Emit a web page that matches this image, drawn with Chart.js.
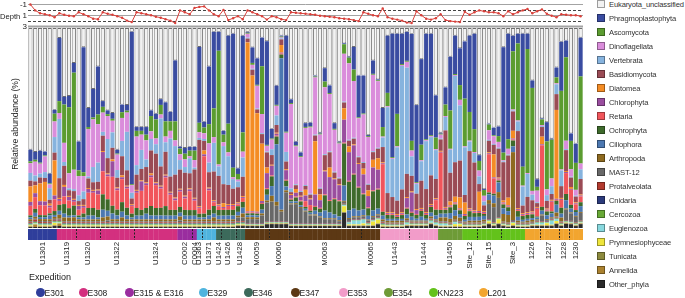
<!DOCTYPE html>
<html>
<head>
<meta charset="utf-8">
<script src="https://cdn.jsdelivr.net/npm/chart.js@4.4.1/dist/chart.umd.min.js"></script>
<style>
  body { margin: 0; background: #fff; width: 685px; height: 298px; overflow: hidden; position: relative;
         font-family: "Liberation Sans", Arial, sans-serif; color: #222; }
  canvas { position: absolute; left: 0; }
  #depth { top: 0; }
  #main { top: 28px; }
  #strip { top: 229px; }
  .lbl { position: absolute; white-space: nowrap; line-height: 10px; }
  #ylab { position: absolute; left: 15px; top: 124px; transform: translate(-50%, -50%) rotate(-90deg);
          font-size: 8.6px; white-space: nowrap; }
  .li { position: absolute; left: 597px; height: 10px; font-size: 7.6px; letter-spacing: -0.15px; line-height: 10px;
        white-space: nowrap; color: #333; }
  .li span { display: inline-block; width: 8px; height: 8px; vertical-align: -1px; margin-right: 4px;
             box-sizing: border-box; border: 0.5px solid rgba(0,0,0,.35); }
  .dot { position: absolute; width: 9px; height: 9px; border-radius: 50%; top: 288px; }
  .exp { position: absolute; top: 288px; font-size: 8.5px; line-height: 10px; white-space: nowrap; }
</style>
</head>
<body>
<canvas id="depth" width="590" height="30"></canvas>
<canvas id="main" width="590" height="200"></canvas>
<canvas id="strip" width="590" height="62"></canvas>

<div class="lbl" style="left:0px;top:12px;font-size:7.6px">Depth</div>
<div class="lbl" style="left:19px;width:8px;text-align:right;top:0px;font-size:8px">-1</div>
<div class="lbl" style="left:19px;width:8px;text-align:right;top:10.5px;font-size:8px">1</div>
<div class="lbl" style="left:19px;width:8px;text-align:right;top:22px;font-size:8px">3</div>
<div id="ylab">Relative abundance (%)</div>
<div class="lbl" style="left:29px;top:272px;font-size:9px">Expedition</div>
<div id="legends"></div>

<script>
// sites along the x axis, number of samples in each, and the expedition
const siteNames = ['U1301','U1319','U1320','U1322','U1324','C0002','C0004','U1363','U1371','U1424','U1426','U1428',
  'M0059','M0060','M0063','M0065','U1443','U1444','U1450','Site_12','Site_15','Site_3','1226','1227','1228','1230'];
const siteBars = [6,4,5,7,9,3,1,1,3,1,3,2,5,4,15,4,6,6,5,3,5,5,3,4,2,3];
const siteExpedition = ['E301','E308','E308','E308','E308','E315 & E316','E315 & E316','E329','E329','E346','E346','E346',
  'E347','E347','E347','E347','E353','E353','E354','KN223','KN223','KN223','L201','L201','L201','L201'];

const expeditions = ['E301','E308','E315 & E316','E329','E346','E347','E353','E354','KN223','L201'];
const expeditionColors = ['#2f3e9b','#d3307f','#9a2d9f','#4fb4de','#3c6a5b','#5c3814','#f29cc9','#6e9b37','#63c21b','#f2a52f'];

// sample depth (log scale, -1 .. 3)
const depth = [-0.91,0.16,0.69,0.87,1.04,1.4,0.69,0.96,1.13,1.22,
  0.51,0.87,1.22,1.67,1.76,0.51,0.78,0.96,1.22,1.49,
  2.02,2.29,0.51,0.69,0.87,1.04,1.31,1.49,1.76,2.02,
  2.47,0.16,0.51,0.87,-0.29,-0.47,-0.56,0.16,0.87,1.22,
  0.07,1.93,1.58,1.22,1.76,0.16,0.51,0.87,1.22,1.84,
  1.22,1.4,1.76,1.93,0.51,0.6,0.69,0.78,0.87,0.96,
  1.13,1.22,1.31,1.4,1.58,1.67,1.76,1.93,2.11,0.51,
  0.78,1.04,1.22,-0.2,1.4,1.67,1.84,2.02,2.38,2.47,
  0.33,1.04,1.67,1.84,1.58,0.87,1.93,2.11,2.2,2.29,
  0.42,0.96,0.51,0.16,0.33,0.51,0.51,0.69,1.22,0.33,
  0.87,0.51,0.16,-0.11,0.69,0.33,-0.02,0.78,1.13,1.4,
  0.87,0.96,1.04,1.04,1.22];
const depthTicks = [-1, 0, 1, 2, 3];

// relative abundance per sample (%), one array per taxon
const eukUnclassified = [63,63,62,63,75,42,5,36,36,18,
  59,10,42,32,20,38,43,44,63,40,
  40,2,52,52,52,43,45,37,39,44,
  17,62,63,63,63,10,49,20,2,2,
  54,4,3,74,4,2,10,16,5,7,
  52,30,4,4,38,60,66,50,50,25,
  55,21,30,50,60,8,15,10,25,25,
  57,17,27,42,4,3,3,3,2,3,
  40,16,3,3,35,55,31,15,4,11,
  7,4,3,66,84,50,52,51,10,3,
  4,3,3,3,28,79,47,49,57,20,
  7,6,56,60,5];
const phragmoplastophyta = [6,4,6,2,5,2,32,4,6,5,
  15,65,10,15,25,3,2,3,2,4,
  3,80,2,2,4,3,3,3,10,5,
  32,1,3,2,2,40,3,30,40,10,
  2,46,70,3,50,0.5,8,14,15,55,
  5,10,0.5,50,2,2,2,2,2,0.5,
  0.5,7,4,3,0.5,0.5,0.5,12,22,20,
  0.5,7,0.5,10,30,65,42,16,15,55,
  40,44,55,53,22,0.5,9,28,20,20,
  30,40,50,3,0.5,0.5,4,5,55,55,
  8,5,70,8,4,4,0.5,10,0.5,5,
  25,8,4,10,20];
const ascomycota = [1,1,0.5,0.5,0.5,4,6,20,35,50,
  3,2,1,1,5,3,1,1,0.5,3,
  1,0.5,3,2,3,8,10,5,8,5,
  10,3,3,3,5,5,3,10,15,60,
  4,15,5,3,10,0.5,1,0.5,25,0.5,
  0.5,0.5,0.5,0.5,0.5,0.5,0.5,0.5,0.5,0.5,
  0.5,3,0.5,0.5,0.5,5,3,6,0.5,0.5,
  0.5,0.5,0.5,5,7,0.5,17,0.5,0.5,5,
  0.5,8,0.5,0.5,6,0.5,6,20,0.5,8,
  25,15,12,5,3,3,0.5,3,4,5,
  30,40,10,65,55,2,3,25,20,3,
  40,40,15,14,45];
const dinoflagellata = [5,7,5,8,2,8,3,10,8,10,
  10,8,25,25,20,10,12,6,8,12,
  10,4,15,8,10,4,3,2,3,4,
  3,3,4,1,4,3,3,10,3,1,
  2,2,1,1,3,2,2,12,10,3,
  5,5,0.5,10,45,20,18,30,35,30,
  28,35,30,22,18,25,40,30,20,25,
  25,40,35,0.5,0.5,0.5,0.5,0.5,3,3,
  0.5,0.5,0.5,0.5,0.5,2,0.5,0.5,0.5,3,
  0.5,0.5,0.5,3,3,5,4,3,0.5,3,
  0.5,0.5,0.5,0.5,2,6,0.5,3,4,0.5,
  0.5,4,4,3,3];
const vertebrata = [4,3,2,3,6,8,30,2,1,1,
  3,4,1,8,10,2,10,8,4,8,
  20,3,5,10,4,6,5,25,5,20,
  15,5,3,8,1,1,1,5,15,5,
  20,15,5,3,10,0.5,0.5,0.5,0.5,0.5,
  3,5,0.5,5,2,0.5,0.5,0.5,0.5,0.5,
  0.5,0.5,0.5,0.5,0.5,0.5,0.5,0.5,0.5,0.5,
  0.5,0.5,0.5,5,45,20,28,65,55,10,
  5,10,25,20,15,0.5,7,12,45,30,
  25,5,5,4,2,0.5,0.5,0.5,0.5,0.5,
  0.5,5,10,12,3,0.5,0.5,3,4,5,
  8,0.5,0.5,0.5,5];
const basidiomycota = [3,2,3,2,2,4,10,10,3,4,
  2,3,5,4,4,8,8,6,5,10,
  8,3,8,6,8,12,15,10,12,8,
  12,10,12,8,15,35,5,8,15,15,
  10,10,8,8,10,2,3,2,5,8,
  5,4,3,4,1,2,2,2,2,3,
  3,8,8,3,3,3,3,3,3,3,
  3,4,5,8,10,8,7,12,12,8,
  8,14,12,15,10,6,40,15,18,20,
  4,30,25,4,3,6,5,15,20,22,
  10,40,4,8,6,2,5,4,3,8,
  6,10,5,3,8];
const diatomea = [8,4,9,10,1,18,0.5,1,0.5,0.5,
  0.5,0.5,0.5,0.5,0.5,0.5,0.5,1,0.5,1,
  0.5,0.5,0.5,0.5,0.5,1,0.5,0.5,0.5,0.5,
  0.5,0.5,0.5,0.5,0.5,0.5,2,0.5,0.5,0.5,
  2,0.5,0.5,0.5,0.5,88,70,52,30,3,
  0.5,0.5,4,0.5,0.5,2,0.5,3,0.5,28,
  3,0.5,5,0.5,0.5,6,3,0.5,0.5,3,
  3,4,6,0.5,0.5,0.5,0.5,0.5,0.5,0.5,
  0.5,0.5,0.5,0.5,0.5,0.5,0.5,2,3,6,
  6,0.5,0.5,10,0.5,0.5,12,0.5,1,4,
  4,0.5,0.5,0.5,0.5,0.5,4,0.5,0.5,45,
  0.5,0.5,1,0.5,0.5];
const chlorophyta = [2,2,2,2,1,2,1,5,2,1,
  2,1,2,1,2,10,1,8,1,1,
  1,0.5,1,5,1,1,1,1,1,1,
  1,1,1,1,1,0.5,1,1,0.5,0.5,
  0.5,0.5,0.5,0.5,0.5,0.5,0.5,0.5,1,8,
  5,1,0.5,5,2,2,2,3,3,6,
  4,12,12,10,8,12,15,15,12,10,
  6,12,10,0.5,0.5,0.5,0.5,0.5,5,10,
  2,0.5,0.5,0.5,0.5,0.5,0.5,0.5,0.5,0.5,
  0.5,0.5,0.5,0.5,0.5,0.5,0.5,0.5,0.5,0.5,
  0.5,0.5,0.5,0.5,0.5,0.5,0.5,0.5,0.5,0.5,
  0.5,0.5,0.5,0.5,0.5];
const retaria = [5,6,5,5,3,6,2,4,4,2,
  3,3,8,8,8,12,12,15,10,12,
  10,4,8,10,12,15,12,10,15,8,
  5,8,6,10,5,3,30,10,2,2,
  1,2,2,1,2,0.5,0.5,0.5,0.5,0.5,
  0.5,0.5,0.5,0.5,0.5,0.5,0.5,3,3,0.5,
  0.5,0.5,0.5,0.5,0.5,0.5,0.5,0.5,0.5,0.5,
  0.5,0.5,0.5,25,0.5,0.5,0.5,0.5,0.5,0.5,
  0.5,0.5,0.5,0.5,5,30,0.5,0.5,0.5,0.5,
  0.5,0.5,0.5,0.5,0.5,20,8,0.5,0.5,0.5,
  0.5,0.5,0.5,0.5,0.5,4,32,0.5,5,0.5,
  4,10,8,3,3];
const ochrophyta = [1,2,1,1,1,2,3,5,4,5,
  1,2,4,4,4,8,6,4,3,5,
  4,2,4,3,3,5,4,4,5,3,
  3,3,3,3,3,2,2,3,4,3,
  3,3,3,3,3,1,1,1,3,3,
  5,4,2,3,1,2,2,1,1,2,
  2,8,6,8,8,22,15,18,12,8,
  4,10,10,2,2,2,1,2,3,2,
  2,3,2,3,3,2,2,3,3,2,
  2,3,2,2,1,1,1,1,2,2,
  3,3,2,2,2,0.5,2,2,1,2,
  3,3,2,1,2];
const ciliophora = [1,2,1,1,2,1,2,2,1,1,
  1,1,2,2,1,4,3,3,2,3,
  2,1,2,2,3,2,2,2,2,2,
  2,2,2,2,2,1,1,2,2,2,
  2,2,2,2,3,1,1,1,2,3,
  5,30,80,2,1,1,1,1,1,2,
  2,4,3,2,2,8,4,4,3,3,
  2,3,3,2,1,1,1,1,2,2,
  1,2,1,2,2,2,2,3,3,2,
  1,2,2,2,2,3,4,5,3,2,
  3,2,1,1,1,1,2,2,2,4,
  2,4,2,2,3];
const arthropoda = [1,1,1,1,1,1,2,2,2,2,
  1,1,1,1,1,2,2,1,1,2,
  1,1,1,1,1,1,1,1,1,1,
  1,2,1,1,1,1,1,1,2,1,
  1,1,1,1,2,1,1,1,1,1,
  3,2,1,1,0.5,0.5,0.5,0.5,0.5,0.5,
  0.5,0.5,0.5,0.5,0.5,0.5,0.5,0.5,0.5,0.5,
  0.5,0.5,0.5,1,1,1,1,1,1,0.5,
  0.5,0.5,0.5,1,0.5,2,2,2,2,2,
  0.5,1,1,1,1,2,2,3,4,4,
  35,1,0.5,1,1,0.5,0.5,0.5,0.5,2,
  2,0.5,0.5,0.5,0.5];
const mast12 = [0.5,0.5,0.5,0.5,0.5,0.5,0.5,0.5,0.5,0.5,
  0.5,0.5,0.5,0.5,0.5,0.5,1,0.5,0.5,0.5,
  0.5,0.5,0.5,0.5,0.5,0.5,0.5,0.5,0.5,0.5,
  0.5,1,0.5,0.5,0.5,0.5,0.5,0.5,0.5,0.5,
  0.5,0.5,0.5,2,2,2,2,2,4,10,
  10,8,5,15,10,10,8,6,4,4,
  3,2,2,2,1,1,1,1,1,1,
  1,1,1,0.5,0.5,0.5,0.5,0.5,0.5,0.5,
  0.5,0.5,0.5,0.5,0.5,0.5,0.5,0.5,0.5,0.5,
  0.5,0.5,0.5,0.5,0.5,8,8,10,0.5,0.5,
  0.5,0.5,0.5,0.5,0.5,0.5,3,0.5,0.5,0.5,
  0.5,5,4,3,4];
const protalveolata = [0.5,1,0.5,0.5,0.5,0.5,0.5,0.5,0.5,0.5,
  0.5,0.5,0.5,0.5,0.5,0.5,0.5,0.5,0.5,0.5,
  0.5,0.5,0.5,0.5,0.5,0.5,0.5,0.5,0.5,0.5,
  0.5,0.5,0.5,0.5,0.5,0.5,0.5,0.5,0.5,0.5,
  0.5,0.5,0.5,0.5,0.5,0.3,0.3,0.3,0.3,0.3,
  0.3,0.3,0.3,0.3,0.3,0.3,0.3,0.3,0.3,0.3,
  0.3,0.3,0.3,0.3,0.3,0.3,0.3,0.3,0.3,0.3,
  0.3,0.3,0.3,0.5,0.3,0.3,0.3,0.3,0.3,0.3,
  0.3,0.3,0.3,0.3,0.3,0.3,0.3,0.3,0.3,0.3,
  0.3,0.3,0.3,0.3,0.3,0.3,0.3,0.3,0.3,0.3,
  0.3,0.3,0.3,0.3,0.3,0.3,0.3,0.3,0.3,0.3,
  0.3,0.3,0.3,0.3,0.3];
const cnidaria = [0.3,0.3,0.3,0.3,0.3,0.3,0.3,0.3,0.3,0.3,
  0.3,0.3,0.3,0.3,0.3,0.3,0.3,0.3,0.3,0.3,
  0.3,0.3,0.3,0.3,0.3,0.3,0.3,0.3,0.3,0.3,
  0.3,0.3,0.3,0.3,0.3,0.3,0.3,0.3,0.3,0.3,
  0.3,0.3,0.3,0.3,0.3,0.2,0.2,0.2,0.2,0.2,
  0.2,0.2,0.2,0.2,0.2,0.2,0.2,0.2,0.2,0.2,
  0.2,0.2,0.2,0.2,0.2,0.2,0.2,0.2,0.2,0.2,
  0.2,0.2,0.2,0.3,0.2,0.2,0.2,0.2,0.2,0.2,
  0.2,0.2,0.2,0.2,0.2,0.2,0.2,0.2,0.2,0.2,
  0.2,0.2,0.2,0.2,0.2,0.2,0.2,0.2,0.2,0.2,
  0.2,0.2,0.2,0.2,0.2,0.2,0.2,0.2,0.2,0.2,
  0.2,0.2,0.2,0.2,0.2];
const cercozoa = [0.5,0.5,0.5,0.5,0.5,0.5,0.5,0.5,0.5,0.5,
  0.5,0.5,0.5,0.5,0.5,0.5,0.5,0.5,0.5,0.5,
  0.5,0.5,0.5,0.5,0.5,0.5,0.5,0.5,0.5,0.5,
  0.5,0.5,0.5,0.5,0.5,0.5,0.5,0.5,0.5,0.5,
  0.5,0.5,0.5,0.5,0.5,0.3,0.3,0.3,0.3,0.3,
  0.3,0.3,0.3,0.3,0.3,0.3,0.3,0.3,0.3,0.3,
  0.3,0.3,0.3,0.3,0.3,0.3,0.3,0.3,0.3,0.3,
  0.3,0.3,0.3,0.5,0.3,0.3,0.3,0.3,0.3,0.3,
  0.3,0.3,0.3,0.3,0.3,0.3,0.3,0.3,0.3,0.3,
  0.3,0.3,0.3,0.3,0.3,0.3,0.3,0.3,0.3,0.3,
  0.3,0.3,0.3,0.3,0.3,0.3,0.3,0.3,0.3,0.3,
  0.3,0.3,0.3,0.3,0.3];
const euglenozoa = [0.3,0.3,0.3,0.3,0.3,0.3,0.3,0.3,0.3,0.3,
  0.3,0.3,0.3,0.3,0.3,0.3,0.3,0.3,0.3,0.3,
  0.3,0.3,0.3,0.3,0.3,0.3,0.3,0.3,0.3,0.3,
  0.3,0.3,0.3,0.3,0.3,0.3,0.3,0.3,0.3,0.3,
  0.3,0.3,0.3,0.3,0.3,0.2,0.2,0.2,0.2,0.2,
  0.2,0.2,0.2,0.2,0.2,0.2,0.2,0.2,0.2,0.2,
  0.2,0.2,0.2,0.2,0.2,0.5,1,2,2,2,
  0.5,0.5,0.5,0.3,0.3,0.3,0.3,0.3,1,0.3,
  0.3,0.3,0.3,1,1,1,1,0.3,1,0.3,
  0.3,0.3,0.3,0.3,0.3,0.3,0.3,0.3,0.3,0.3,
  0.3,0.3,0.3,0.3,0.3,1,1,0.3,2,1,
  0.3,0.3,0.3,0.3,0.3];
const prymnesiophyceae = [0.3,0.3,0.3,0.3,0.3,1,0.3,0.3,0.3,0.3,
  0.3,0.3,0.3,0.3,0.3,0.3,0.3,0.3,0.3,0.3,
  0.3,0.3,0.3,0.3,0.3,0.3,0.3,0.3,0.3,0.3,
  0.3,0.3,0.3,0.3,0.3,0.3,0.3,0.3,0.3,0.3,
  0.3,0.3,0.3,0.3,0.3,0.2,0.2,0.2,0.2,0.2,
  0.2,0.2,0.2,0.2,0.2,0.2,0.2,0.2,0.2,0.2,
  0.2,0.2,0.2,0.2,0.2,3,0.5,0.5,0.5,1,
  0.3,2,2,0.3,0.2,0.2,0.2,0.2,0.2,0.2,
  0.2,0.2,0.2,0.2,0.2,0.2,0.2,0.2,1,1,
  0.2,0.2,0.2,0.2,0.2,1,0.3,2,0.2,0.2,
  1,0.2,0.2,0.2,0.2,0.2,0.2,1,0.2,1,
  0.2,0.2,0.2,0.2,0.2];
const tunicata = [0.3,0.3,0.3,0.3,0.3,0.3,0.3,0.3,0.3,0.3,
  0.3,0.3,0.3,0.3,0.3,0.3,0.3,0.3,0.3,0.3,
  0.3,0.3,0.3,0.3,0.3,0.3,0.3,0.3,0.3,0.3,
  0.3,0.3,0.3,0.3,0.3,0.3,0.3,0.3,0.3,0.3,
  0.3,0.3,0.3,0.3,0.3,0.2,0.2,0.2,0.2,0.2,
  0.2,0.2,0.2,0.2,0.2,0.2,0.2,0.2,0.2,0.2,
  0.2,0.2,0.2,0.2,0.2,0.2,0.2,0.2,0.2,0.2,
  0.2,0.2,0.2,0.3,0.2,0.2,0.2,0.2,0.2,0.2,
  0.2,0.2,0.2,0.2,0.2,0.2,0.2,0.2,0.2,0.2,
  0.2,0.2,0.2,0.2,0.2,0.2,0.2,0.2,0.2,0.2,
  0.2,0.2,0.2,0.2,0.2,0.2,0.2,0.2,0.2,0.2,
  0.2,0.2,0.2,0.2,0.2];
const annelida = [0.3,1,0.3,0.3,0.3,0.3,1,0.3,0.3,0.3,
  0.3,0.3,0.3,0.3,0.3,0.3,0.3,0.3,0.3,0.3,
  0.3,0.3,0.3,0.3,0.3,0.3,0.3,0.3,0.3,0.3,
  0.3,0.3,0.3,0.3,0.3,0.3,0.3,0.3,0.3,0.3,
  0.3,0.3,0.3,0.3,0.3,0.2,0.2,0.2,0.2,0.2,
  0.2,0.2,0.2,0.2,0.2,0.2,0.2,0.2,0.2,0.2,
  0.2,0.2,0.2,0.2,0.2,0.2,0.2,0.2,0.2,0.2,
  0.2,0.2,0.2,0.3,0.3,0.3,0.3,0.3,0.3,0.3,
  0.3,0.3,0.3,0.3,0.3,0.3,0.3,0.3,0.3,0.3,
  0.3,0.3,0.3,0.3,0.3,0.3,0.3,0.3,0.3,0.3,
  0.3,0.3,0.3,0.3,0.3,0.3,0.3,0.3,0.3,0.3,
  0.3,0.3,0.3,0.3,0.3];
const otherPhyla = [0.5,0.5,0.5,0.5,0.5,1,1,0.5,0.5,0.5,
  0.5,0.5,0.5,0.5,0.5,0.5,0.5,0.5,0.5,0.5,
  0.5,0.5,0.5,0.5,0.5,0.5,0.5,0.5,0.5,0.5,
  0.5,0.5,0.5,0.5,0.5,0.5,0.5,0.5,0.5,0.5,
  0.5,0.5,0.5,1,1,1,1,1,1,2,
  2,2,2,2,1,1,1,1,1,1,
  1,1,1,1,1,8,1,1,1,1,
  1,1,2,0.5,0.5,0.5,0.5,0.5,1,1,
  1,1,1,2,1,0.5,0.5,0.5,0.5,0.5,
  0.5,0.5,0.5,0.5,1,2,1,2,1,0.5,
  1,0.5,0.5,0.5,1,1,1,1,1,2,
  1,2,2,1,2];

const taxa = ['Eukaryota_unclassified','Phragmoplastophyta','Ascomycota','Dinoflagellata','Vertebrata','Basidiomycota',
  'Diatomea','Chlorophyta','Retaria','Ochrophyta','Ciliophora','Arthropoda','MAST-12','Protalveolata','Cnidaria',
  'Cercozoa','Euglenozoa','Prymnesiophyceae','Tunicata','Annelida','Other_phyla'];
const taxaColors = ['#f2f2f2','#3a4ca1','#5b9c30','#da8ddb','#86b3de','#9a4b55','#f48c25','#9a4e9f','#f1555b','#3e6a2b',
  '#4c78b1','#8e6a20','#686868','#b33a2e','#2b3a7b','#68a936','#88d8de','#eee53c','#8c8a3d','#aa812f','#2a2a2a'];
const taxaValues = [eukUnclassified, phragmoplastophyta, ascomycota, dinoflagellata, vertebrata, basidiomycota,
  diatomea, chlorophyta, retaria, ochrophyta, ciliophora, arthropoda, mast12, protalveolata, cnidaria,
  cercozoa, euglenozoa, prymnesiophyceae, tunicata, annelida, otherPhyla];

// one label per sample, site index for each bar
const barSite = [];
siteNames.forEach((s, i) => { for (let k = 0; k < siteBars[i]; k++) barSite.push(i); });
const labels = barSite.map((s, i) => siteNames[s] + '_' + i);
const totals = labels.map((_, i) => taxaValues.reduce((a, arr) => a + arr[i], 0));

const pad = { left: 28, right: 7 };

// DEPTH
const depthGrid = {
  id: 'depthGrid',
  beforeDatasetsDraw(chart) {
    const { ctx, chartArea: a, scales: { y } } = chart;
    ctx.save();
    depthTicks.forEach(v => {
      const py = Math.round(y.getPixelForValue(v)) + 0.5;
      ctx.beginPath();
      ctx.setLineDash(v % 2 === 0 ? [3, 2] : []);
      ctx.strokeStyle = v % 2 === 0 ? '#444' : '#a3a3a3';
      ctx.lineWidth = v === 3 ? 2 : 1;
      ctx.moveTo(a.left, py); ctx.lineTo(a.right, py); ctx.stroke();
    });
    ctx.restore();
  }
};

new Chart(document.getElementById('depth'), {
  type: 'line',
  data: { labels, datasets: [{ data: depth, borderColor: '#d8403a', borderWidth: 1, pointRadius: 1.2,
    pointBackgroundColor: '#d8403a', pointBorderWidth: 0, tension: 0, clip: 4 }] },
  options: {
    responsive: false, animation: false,
    layout: { padding: { left: pad.left, right: pad.right, top: 4, bottom: 3 } },
    plugins: { legend: { display: false }, tooltip: { enabled: false } },
    scales: { x: { display: false, offset: true }, y: { display: false, reverse: true, min: -1, max: 3 } }
  },
  plugins: [depthGrid]
});

// ABUNDANCE
const datasets = taxa.map((name, t) => ({
  label: name,
  data: taxaValues[t].map((v, i) => v * 100 / totals[i]),
  backgroundColor: taxaColors[t],
  borderColor: t === 0 ? '#6e6e6e' : taxaColors[t],
  borderWidth: t === 0 ? 0.9 : 0,
  borderSkipped: false,
  barPercentage: 0.86,
  categoryPercentage: 1
})).reverse();

new Chart(document.getElementById('main'), {
  type: 'bar',
  data: { labels, datasets },
  options: {
    responsive: false, animation: false,
    layout: { padding: { left: pad.left, right: pad.right, top: 0, bottom: 0 } },
    plugins: { legend: { display: false }, tooltip: { enabled: false } },
    scales: { x: { display: false, stacked: true }, y: { display: false, stacked: true, min: 0, max: 100 } }
  }
});

// EXPEDITION STRIP + SITE LABELS
const siteMarks = {
  id: 'siteMarks',
  afterDatasetsDraw(chart) {
    const { ctx, chartArea: a, scales: { x } } = chart;
    const half = (x.getPixelForValue(1) - x.getPixelForValue(0)) / 2;
    ctx.save();
    let start = 0;
    siteNames.forEach((name, s) => {
      const end = start + siteBars[s] - 1;
      if (s > 0 && siteExpedition[s] === siteExpedition[s - 1]) {
        const px = Math.round(x.getPixelForValue(start) - half) + 0.5;
        ctx.beginPath();
        ctx.setLineDash([2, 1.5]);
        ctx.strokeStyle = '#222';
        ctx.lineWidth = 1;
        ctx.moveTo(px, a.top); ctx.lineTo(px, a.bottom); ctx.stroke();
      }
      const cx = (x.getPixelForValue(start) + x.getPixelForValue(end)) / 2;
      ctx.save();
      ctx.translate(cx, a.bottom + 2);
      ctx.rotate(-Math.PI / 2);
      ctx.font = '7.8px "Liberation Sans", Arial, sans-serif';
      ctx.fillStyle = '#222';
      ctx.textAlign = 'right';
      ctx.textBaseline = 'middle';
      ctx.fillText(name, 0, 0);
      ctx.restore();
      start = end + 1;
    });
    ctx.restore();
  }
};

new Chart(document.getElementById('strip'), {
  type: 'bar',
  data: { labels, datasets: [{
    data: labels.map(() => 1),
    backgroundColor: barSite.map(s => expeditionColors[expeditions.indexOf(siteExpedition[s])]),
    borderWidth: 0, barPercentage: 1.06, categoryPercentage: 1
  }] },
  options: {
    responsive: false, animation: false,
    layout: { padding: { left: pad.left, right: pad.right, top: 0, bottom: 51 } },
    plugins: { legend: { display: false }, tooltip: { enabled: false } },
    scales: { x: { display: false }, y: { display: false, min: 0, max: 1 } }
  },
  plugins: [siteMarks]
});

// LEGENDS
const leg = document.getElementById('legends');
taxa.forEach((name, t) => {
  const d = document.createElement('div');
  d.className = 'li';
  d.style.top = (5 + 14 * t - 5) + 'px';
  d.innerHTML = `<span style="background:${taxaColors[t]}"></span>${name}`;
  leg.appendChild(d);
});
const expX = [40, 83, 129, 203, 248, 295, 343, 388, 433, 483];
expeditions.forEach((name, e) => {
  const dot = document.createElement('div');
  dot.className = 'dot';
  dot.style.left = (expX[e] - 4.5) + 'px';
  dot.style.background = expeditionColors[e];
  leg.appendChild(dot);
  const tx = document.createElement('div');
  tx.className = 'exp';
  tx.style.left = (expX[e] + 4.5) + 'px';
  tx.textContent = name;
  leg.appendChild(tx);
});
</script>
</body>
</html>
